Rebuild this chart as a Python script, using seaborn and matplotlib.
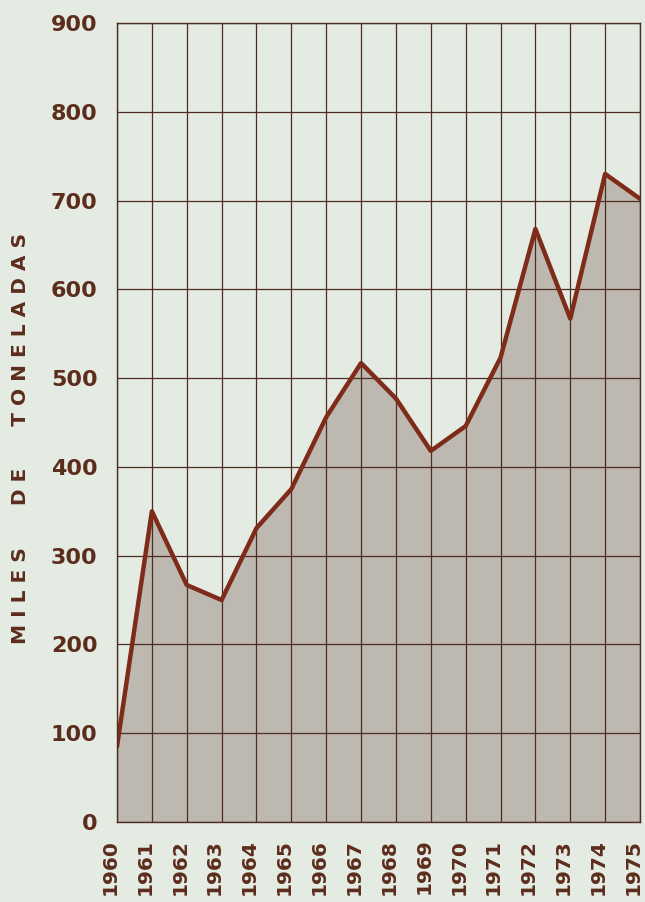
"""
Producción anual 1960-1975, en miles de toneladas.
Area chart with a thick line on a brown grid.
"""

import matplotlib
matplotlib.use('Agg')
import matplotlib.pyplot as plt
import matplotlib.transforms as mtransforms
import seaborn as sns

years = list(range(1960, 1976))
miles_toneladas = [85, 350, 267, 250, 331, 375, 456, 517, 477, 418,
                   446, 523, 668, 567, 730, 702]
y_ticks = list(range(0, 1000, 100))

bg = '#e3ebe2'
fill_grey = '#bdb8b0'
line_red = '#7e2b1a'
grid_brown = '#4e2c22'
text_brown = '#5c2c1c'

sns.set_style('white', {'axes.facecolor': bg, 'figure.facecolor': bg})
plt.rcParams['font.family'] = ['DejaVu Sans']

fig = plt.figure(figsize=(6.45, 9.02), dpi=100)
ax = fig.add_axes([117 / 645, 1 - 822 / 902, 523 / 645, 799 / 902])

# grey area under the curve, then the grid, then the line on top
ax.fill_between(years, miles_toneladas, 0, color=fill_grey, linewidth=0, zorder=1)
for yr in years:
    ax.axvline(yr, color=grid_brown, lw=0.9, zorder=2)
for v in y_ticks:
    ax.axhline(v, color=grid_brown, lw=0.9, zorder=2)
sns.lineplot(x=years, y=miles_toneladas, ax=ax, color=line_red,
             linewidth=3.2, zorder=3)

ax.set_xlim(years[0], years[-1])
ax.set_ylim(0, 900)
ax.set_xticks(years)
ax.set_xticklabels([str(y) for y in years], rotation=90, fontsize=14.5,
                   fontweight='bold', color=text_brown, va='top', ha='center')
ax.set_yticks(y_ticks)
ax.set_yticklabels([str(v) for v in y_ticks], fontsize=16,
                   fontweight='bold', color=text_brown)
ax.tick_params(axis='both', length=0)
ax.tick_params(axis='x', pad=12)
ax.tick_params(axis='y', pad=14)

# year labels sit a little left of their grid line, as in the print
shift = mtransforms.ScaledTranslation(-5 / 72, 0, fig.dpi_scale_trans)
for lbl in ax.get_xticklabels():
    lbl.set_transform(lbl.get_transform() + shift)

for side in ax.spines.values():
    side.set_color(grid_brown)
    side.set_linewidth(1.0)
    side.set_zorder(4)

fig.text(21 / 645, 1 - 438 / 902,
         'M I L E S      D E      T O N E L A D A S',
         rotation=90, ha='center', va='center', fontsize=14.5,
         fontweight='bold', color=text_brown)

fig.savefig('out.png', dpi=100, facecolor=bg)
